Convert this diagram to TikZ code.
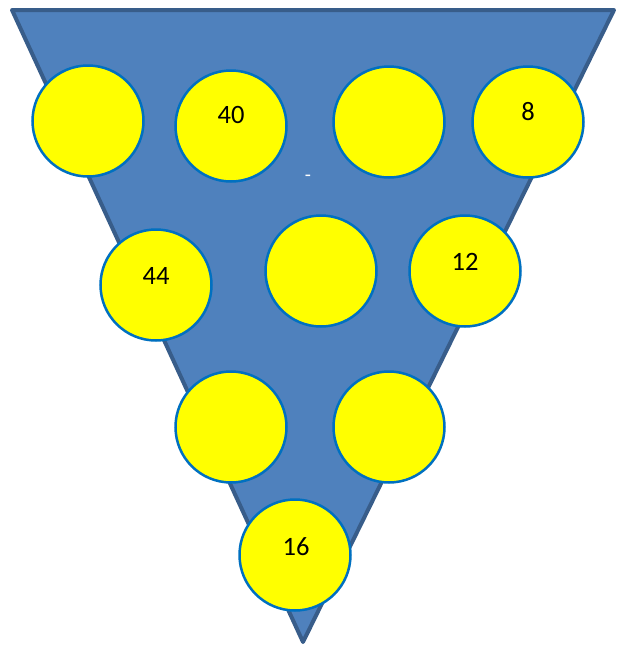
\documentclass[tikz,border=0pt]{standalone}
\usepackage{fontspec}
\setmainfont{Carlito}
\definecolor{trifill}{HTML}{4F81BD}
\definecolor{triline}{HTML}{385D8A}
\definecolor{circline}{HTML}{0070C0}
\definecolor{ball}{HTML}{FFFF00}
\begin{document}
\begin{tikzpicture}[x=1pt,y=-1pt,
  ballnode/.style={circle,draw=circline,fill=ball,line width=2.5pt,minimum size=111pt,inner sep=0pt},
  numtext/.style={font=\fontsize{26.5}{26.5}\selectfont,text=black,inner sep=0pt}]
\useasboundingbox (0,0) rectangle (617,646);
\draw[fill=trifill,draw=triline,line width=4pt,line join=round] (12,10) -- (614,10) -- (303,642) -- cycle;
\node[text=white,font=\fontsize{20}{20}\selectfont,inner sep=0pt] (dash) at (308,178) {-};
% row 1
\node[ballnode] (b1) at (88,121) {};
\node[ballnode] (b2) at (231,126) {};
\node[ballnode] (b3) at (389,122) {};
\node[ballnode] (b4) at (528,122) {};
% row 2
\node[ballnode] (b5) at (156,285) {};
\node[ballnode] (b6) at (321,271) {};
\node[ballnode] (b7) at (465,271) {};
% row 3
\node[ballnode] (b8) at (231,427) {};
\node[ballnode] (b9) at (389,427) {};
% row 4
\node[ballnode] (b10) at (295,555) {};
% labels
\node[numtext] (t2) at (231,115) {40};
\node[numtext] (t4) at (528,112) {8};
\node[numtext] (t5) at (156,276) {44};
\node[numtext] (t7) at (465,262) {12};
\node[numtext] (t10) at (296,547) {16};
\end{tikzpicture}
\end{document}
